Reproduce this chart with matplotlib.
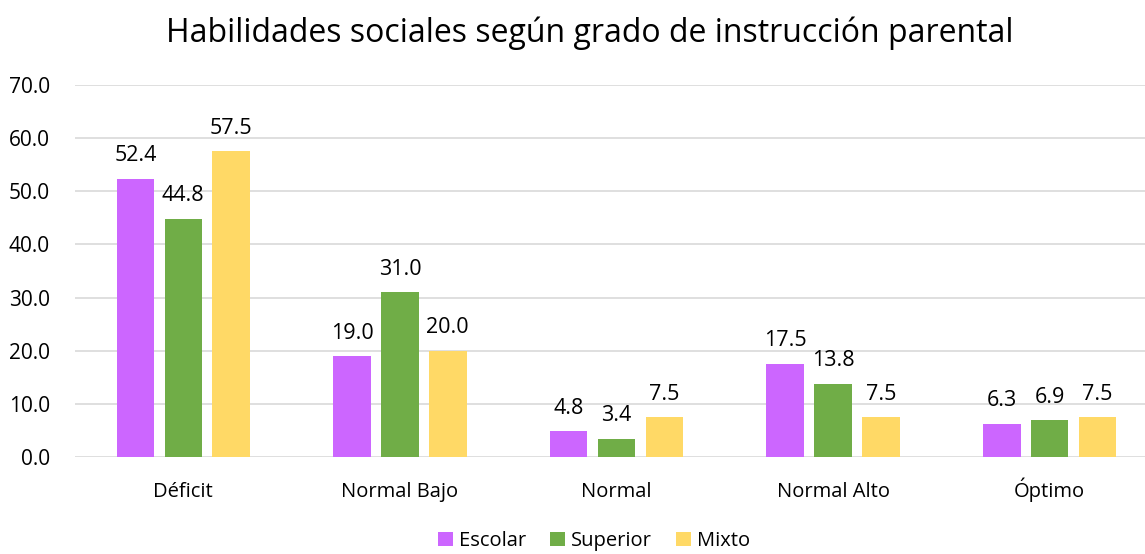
import numpy as np
import matplotlib.pyplot as plt

categories = ['Déficit', 'Normal Bajo', 'Normal', 'Normal Alto', 'Óptimo']
escolar = [52.4, 19.0, 4.8, 17.5, 6.3]
superior = [44.8, 31.0, 3.4, 13.8, 6.9]
mixto = [57.5, 20.0, 7.5, 7.5, 7.5]
series_names = ['Escolar', 'Superior', 'Mixto']
colors = ['#CC66FF', '#70AD47', '#FFD966']

plt.rcParams['font.family'] = ['Open Sans', 'DejaVu Sans']

W, H = 1145, 554
fig = plt.figure(figsize=(W / 100, H / 100), dpi=100)
ax = fig.add_axes([75 / W, 1 - 457 / H, (1158 - 75) / W, (457 - 85) / H])

x = np.arange(len(categories))
step = 0.221
width = 0.173
for i, (vals, name, c) in enumerate(zip([escolar, superior, mixto], series_names, colors)):
    bars = ax.bar(x + (i - 1) * step, vals, width, color=c, label=name, zorder=3)
    for b, v in zip(bars, vals):
        ax.annotate(f'{v:.1f}', (b.get_x() + b.get_width() / 2, v),
                    xytext=(0, 9), textcoords='offset points',
                    ha='center', va='bottom', fontsize=15.5, color='#000000')

ax.set_xlim(-0.5, len(categories) - 0.5)
ax.set_ylim(0, 70)
ax.set_yticks(np.arange(0, 71, 10))
ax.set_yticklabels([f'{t:.1f}' for t in np.arange(0, 71, 10)], fontsize=15)
ax.set_xticks(x)
ax.set_xticklabels(categories, fontsize=14.5)
for lbl in ax.get_xticklabels():
    lbl.set_va('baseline')
ax.tick_params(length=0)
ax.tick_params(axis='x', pad=29)
ax.tick_params(axis='y', pad=18)
ax.grid(axis='y', color='#D9D9D9', linewidth=1.2, zorder=0)
for s in ax.spines.values():
    s.set_visible(False)

fig.text(590 / W, 1 - 33 / H, 'Habilidades sociales según grado de instrucción parental',
         ha='center', va='center', fontsize=23)
fig.legend(loc='center', bbox_to_anchor=(594 / W, 1 - 541 / H), ncol=3, frameon=False,
           fontsize=14.5, handlelength=0.75, handleheight=0.75, handletextpad=0.3, columnspacing=1.2)

fig.savefig('out.png', dpi=100)
